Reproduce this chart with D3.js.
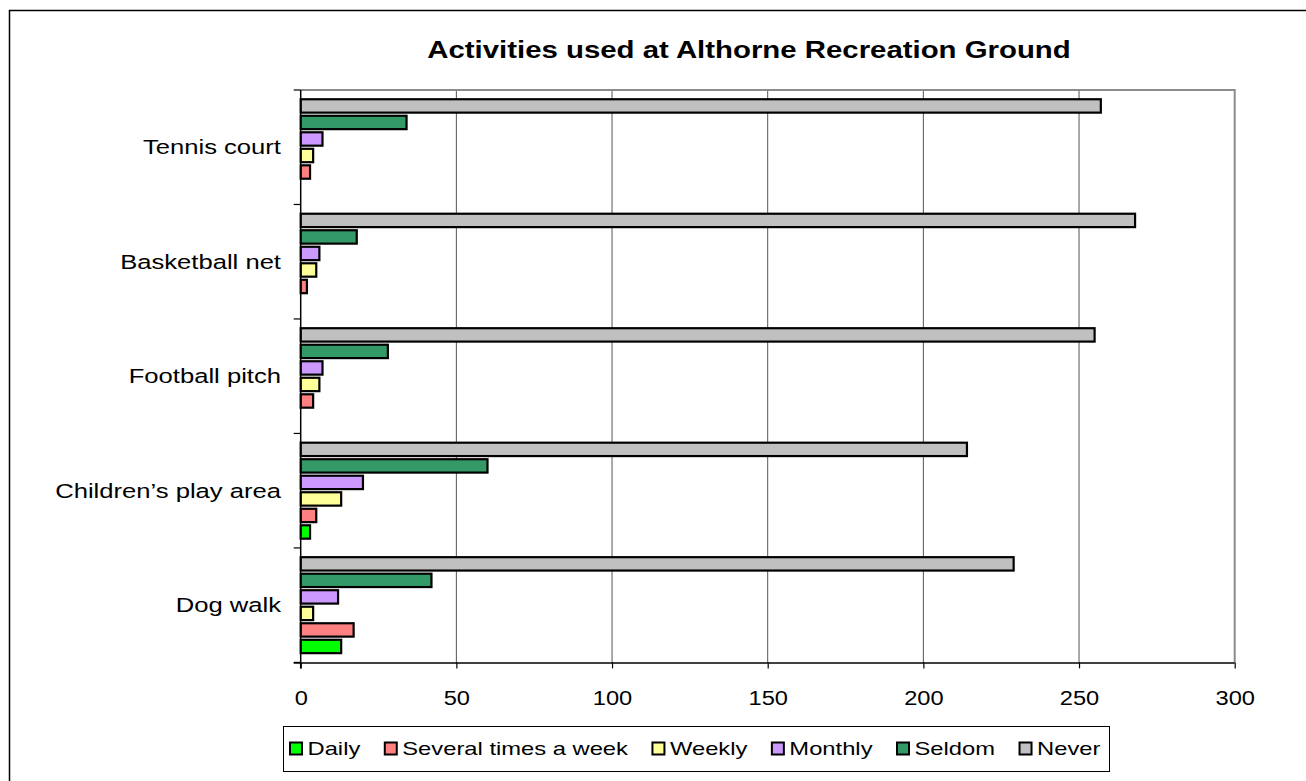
<!DOCTYPE html>
<html>
<head>
<meta charset="utf-8">
<script src="https://cdn.jsdelivr.net/npm/d3@7"></script>
<style>
  html, body { margin: 0; padding: 0; background: #fff; }
  svg { display: block; font-family: "Liberation Sans", Arial, sans-serif; }
</style>
</head>
<body>
<svg id="chart" width="1306" height="781"></svg>
<script>
// Categories, listed top to bottom
const categories = ["Tennis court", "Basketball net", "Football pitch", "Children\u2019s play area", "Dog walk"];

// Series (frequency of use), legend order
const seriesNames = ["Daily", "Several times a week", "Weekly", "Monthly", "Seldom", "Never"];
const seriesColors = ["#00ff00", "#ff8080", "#ffff99", "#cc99ff", "#339966", "#c0c0c0"];

// Values per series, one per category
const daily   = [0, 0, 0, 3, 13];
const several = [3, 2, 4, 5, 17];
const weekly  = [4, 5, 6, 13, 4];
const monthly = [7, 6, 7, 20, 12];
const seldom  = [34, 18, 28, 60, 42];
const never   = [257, 268, 255, 214, 229];

const xTicks = [0, 50, 100, 150, 200, 250, 300];
const title = "Activities used at Althorne Recreation Ground";

const seriesValues = [daily, several, weekly, monthly, seldom, never];
const data = categories.map((c, i) => ({
  category: c,
  values: seriesNames.map((s, j) => ({ series: s, value: seriesValues[j][i], color: seriesColors[j] }))
}));

// The chart's lettering is set wide
const STRETCH = 1.25;

const svg = d3.select("#chart");

// Outer chart frame
svg.append("rect")
  .attr("x", 9.5).attr("y", 10.5)
  .attr("width", 1310).attr("height", 800)
  .attr("fill", "none").attr("stroke", "#000").attr("stroke-width", 1.5);

const plot = { left: 300.7, right: 1234.7, top: 90, bottom: 662.4 };

const x = d3.scaleLinear().domain([0, 300]).range([plot.left, plot.right]);
const y = d3.scaleBand().domain(categories).range([plot.top, plot.bottom]).paddingInner(0).paddingOuter(0);
// Within each category the Never bar sits at the top, Daily at the bottom
const ySeries = d3.scaleBand()
  .domain(seriesNames.slice().reverse())
  .range([0, y.bandwidth()])
  .paddingInner(0.19)
  .paddingOuter(0.56);

// Title
svg.append("text")
  .attr("transform", `translate(749,58) scale(${STRETCH},1)`)
  .attr("text-anchor", "middle")
  .attr("font-weight", "bold")
  .attr("font-size", 23.5)
  .text(title);

// Vertical gridlines
svg.append("g")
  .selectAll("line")
  .data(xTicks.filter(t => t > 0 && t < 300))
  .join("line")
  .attr("x1", d => x(d)).attr("x2", d => x(d))
  .attr("y1", plot.top).attr("y2", plot.bottom)
  .attr("stroke", "#555").attr("stroke-width", 1);

// Plot frame: top and right in grey
svg.append("path")
  .attr("d", `M${plot.left},${plot.top} H${plot.right} V${plot.bottom}`)
  .attr("fill", "none").attr("stroke", "#8c8c8c").attr("stroke-width", 2);

// Bars
const groups = svg.append("g")
  .selectAll("g")
  .data(data)
  .join("g")
  .attr("transform", d => `translate(0,${y(d.category)})`);

groups.selectAll("rect")
  .data(d => d.values.filter(v => v.value > 0))
  .join("rect")
  .attr("x", x(0))
  .attr("y", d => ySeries(d.series))
  .attr("width", d => x(d.value) - x(0))
  .attr("height", ySeries.bandwidth())
  .attr("fill", d => d.color)
  .attr("stroke", "#000")
  .attr("stroke-width", 2.2);

// X axis
const xAxis = d3.axisBottom(x).tickValues(xTicks).tickSize(6).tickSizeOuter(0).tickPadding(23);
const gx = svg.append("g")
  .attr("transform", `translate(0,${plot.bottom})`)
  .call(xAxis);
gx.select(".domain").attr("stroke", "#000").attr("stroke-width", 1.5)
  .attr("d", `M${plot.left - 7},0.5H${plot.right}`);
gx.selectAll(".tick line").attr("stroke", "#000").attr("stroke-width", 1.2);
gx.selectAll(".tick text")
  .attr("font-family", "Liberation Sans, Arial, sans-serif")
  .attr("font-size", 19.5).attr("fill", "#000")
  .attr("transform", `scale(${STRETCH * 0.97},1)`);

// Y axis: ticks at category boundaries, labels centred in each band
const gy = svg.append("g");
gy.append("line")
  .attr("x1", plot.left).attr("x2", plot.left)
  .attr("y1", plot.top).attr("y2", plot.bottom + 6)
  .attr("stroke", "#000").attr("stroke-width", 1.5);
const bounds = categories.map(c => y(c)).concat([plot.bottom]);
gy.selectAll("line.tick")
  .data(bounds)
  .join("line")
  .attr("class", "tick")
  .attr("x1", plot.left - 7).attr("x2", plot.left)
  .attr("y1", d => d).attr("y2", d => d)
  .attr("stroke", "#000").attr("stroke-width", 1.2);
gy.selectAll("text")
  .data(categories)
  .join("text")
  .attr("transform", d => `translate(281,${y(d) + y.bandwidth() / 2}) scale(${STRETCH},1)`)
  .attr("dy", "0.35em")
  .attr("text-anchor", "end")
  .attr("font-size", 20.5)
  .text(d => d);

// Legend: items laid out left to right from their text widths
const legend = svg.append("g");
legend.append("rect")
  .attr("x", 283.5).attr("y", 726.5)
  .attr("width", 826).attr("height", 45)
  .attr("fill", "#fff").attr("stroke", "#000").attr("stroke-width", 1);

const items = legend.selectAll("g.item")
  .data(seriesNames.map((s, i) => ({ name: s, color: seriesColors[i] })))
  .join("g")
  .attr("class", "item");
items.append("rect")
  .attr("x", 0.5).attr("y", 0.5)
  .attr("width", 12).attr("height", 12)
  .attr("fill", d => d.color)
  .attr("stroke", "#000").attr("stroke-width", 2);
items.append("text")
  .attr("transform", `translate(18,6.5) scale(${STRETCH},1)`)
  .attr("dy", "0.35em")
  .attr("font-size", 19)
  .text(d => d.name);

let cursor = 289.5;
const itemGap = 24;
items.each(function () {
  const g = d3.select(this);
  g.attr("transform", `translate(${cursor},742)`);
  const w = g.select("text").node().getComputedTextLength() * STRETCH;
  cursor += 18 + w + itemGap;
});
</script>
</body>
</html>
